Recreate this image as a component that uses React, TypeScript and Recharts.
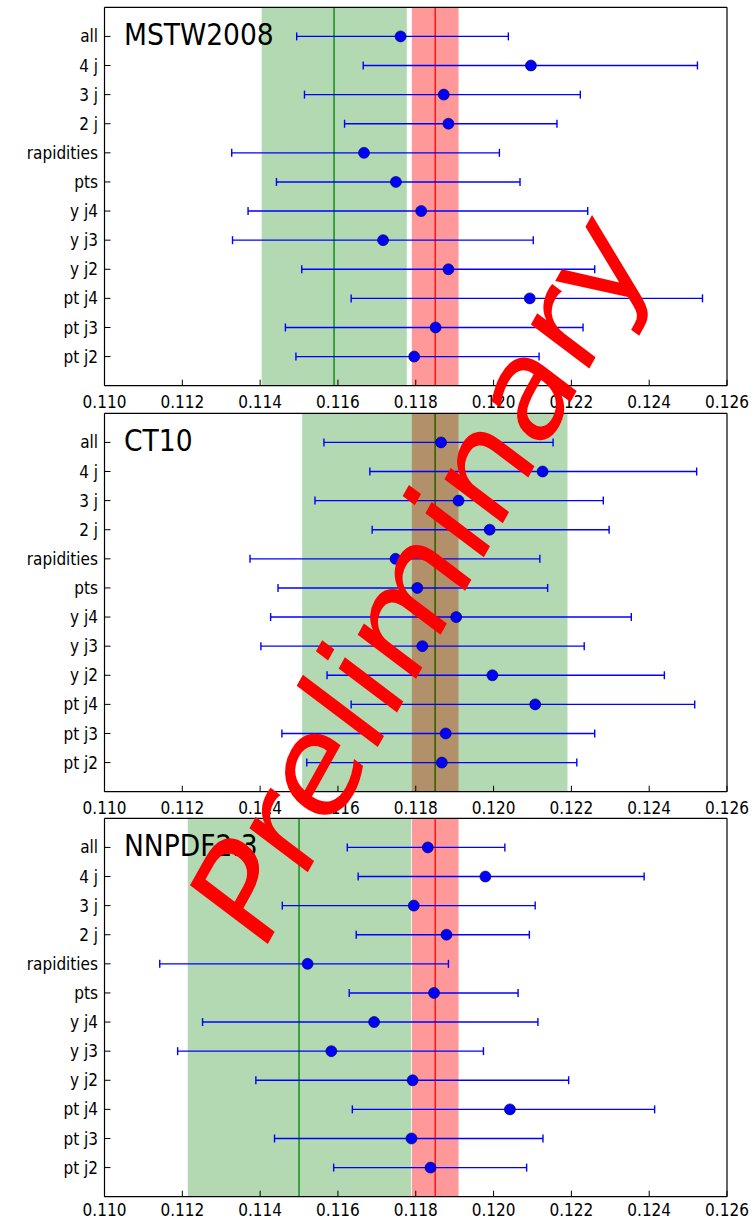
import { ScatterChart, Scatter, XAxis, YAxis, ErrorBar, ReferenceArea, ReferenceLine } from 'recharts'

// fit labels, top to bottom
const fits = ['all', '4 j', '3 j', '2 j', 'rapidities', 'pts', 'y j4', 'y j3', 'y j2', 'pt j4', 'pt j3', 'pt j2']
const rows = [0, 1, 2, 3, 4, 5, 6, 7, 8, 9, 10, 11]
const xTicks = [0.11, 0.112, 0.114, 0.116, 0.118, 0.12, 0.122, 0.124, 0.126]

// world average band (red)
const worldAvg = 0.1185
const worldLo = 0.1179
const worldHi = 0.1191

// MSTW2008
const mstwVal = [0.11761, 0.12096, 0.11872, 0.11884, 0.11667, 0.11749, 0.11814, 0.11716, 0.11884, 0.12093, 0.11851, 0.11796]
const mstwLo = [0.11494, 0.11665, 0.11514, 0.11617, 0.11327, 0.11442, 0.11369, 0.11329, 0.11507, 0.11634, 0.11465, 0.11492]
const mstwHi = [0.12038, 0.12524, 0.12223, 0.12163, 0.12015, 0.12068, 0.12242, 0.12102, 0.1226, 0.12537, 0.1223, 0.12117]
const mstwPdf = [0.1159, 0.11404, 0.11777]

// CT10
const ct10Val = [0.11865, 0.12126, 0.1191, 0.1199, 0.11748, 0.11804, 0.11904, 0.11817, 0.11997, 0.12107, 0.11877, 0.11867]
const ct10Lo = [0.11564, 0.11682, 0.11541, 0.11688, 0.11374, 0.11446, 0.11427, 0.11402, 0.11572, 0.11634, 0.11456, 0.1152]
const ct10Hi = [0.12153, 0.12522, 0.12282, 0.12297, 0.12119, 0.12139, 0.12354, 0.12233, 0.12439, 0.12517, 0.1226, 0.12214]
const ct10Pdf = [0.1185, 0.11508, 0.1219]

// NNPDF2.3
const nnpdfVal = [0.11831, 0.11979, 0.11795, 0.11879, 0.11522, 0.11847, 0.11693, 0.11583, 0.11792, 0.12042, 0.11789, 0.11838]
const nnpdfLo = [0.11624, 0.11652, 0.11457, 0.11647, 0.11142, 0.11629, 0.11252, 0.11188, 0.11389, 0.11637, 0.11437, 0.11589]
const nnpdfHi = [0.12029, 0.12387, 0.12107, 0.12092, 0.11884, 0.12063, 0.12114, 0.11974, 0.12193, 0.12414, 0.12127, 0.12085]
const nnpdfPdf = [0.115, 0.11214, 0.11788]

const font = '"DejaVu Sans Condensed", "DejaVu Sans", sans-serif'
const tickStyle = { fontFamily: font, fontSize: 17, fill: '#000' }
const axisLine = { stroke: '#000', strokeWidth: 1.2 }
const tickLine = { stroke: '#000', strokeWidth: 1 }

interface PanelProps {
  vals: number[]
  lo: number[]
  hi: number[]
  pdf: number[]
  labelGap?: number
}

const Dot = (p: any) => (
  <circle cx={p.cx} cy={p.cy} r={5.5} fill="#0000ff" stroke="#000033" strokeWidth={0.6} />
)

const Panel = ({ vals, lo, hi, pdf, labelGap = 16 }: PanelProps) => {
  const data = rows.map((r) => ({ row: r, v: vals[r], err: [vals[r] - lo[r], hi[r] - vals[r]] }))
  return (
    <ScatterChart width={754} height={420} margin={{ top: 6.3, right: 26, bottom: 14.3, left: 4.5 }}>
      <XAxis type="number" dataKey="v" xAxisId="b" domain={[0.11, 0.126]} ticks={xTicks} allowDataOverflow
        height={20} interval={0} tickSize={-6} tickMargin={labelGap} tick={tickStyle} axisLine={axisLine} tickLine={tickLine}
        tickFormatter={(t: number) => t.toFixed(3)} />
      <XAxis type="number" xAxisId="t" orientation="top" domain={[0.11, 0.126]} ticks={xTicks} allowDataOverflow
        height={1} interval={0} tickSize={-6} tick={false} axisLine={axisLine} tickLine={tickLine} />
      <YAxis type="number" dataKey="row" yAxisId="l" domain={[-1, 12]} ticks={rows} reversed allowDataOverflow
        width={100} interval={0} tickSize={-6} tickMargin={12.5} tick={tickStyle} axisLine={axisLine} tickLine={tickLine}
        tickFormatter={(t: number) => fits[t] ?? ''} />
      <YAxis type="number" yAxisId="r" orientation="right" domain={[-1, 12]} ticks={rows} reversed allowDataOverflow
        width={1} interval={0} tickSize={-6} tick={false} axisLine={axisLine} tickLine={tickLine} />
      <ReferenceArea xAxisId="b" yAxisId="l" x1={worldLo} x2={worldHi} fill="#ff0000" fillOpacity={0.4} stroke="none" />
      <ReferenceArea xAxisId="b" yAxisId="l" x1={pdf[1]} x2={pdf[2]} fill="#008000" fillOpacity={0.3} stroke="none" />
      <ReferenceLine xAxisId="b" yAxisId="l" x={worldAvg} stroke="#ff0000" strokeWidth={1.3} />
      <ReferenceLine xAxisId="b" yAxisId="l" x={pdf[0]} stroke="#008000" strokeWidth={1.3} />
      <Scatter data={data} xAxisId="b" yAxisId="l" shape={Dot} isAnimationActive={false}>
        <ErrorBar dataKey="err" direction="x" width={4} stroke="#0000ff" strokeWidth={1.4} isAnimationActive={false} />
      </Scatter>
    </ScatterChart>
  )
}

const titles = ['MSTW2008', 'CT10', 'NNPDF2.3']
const panelTops = [0, 406, 811]

export default function App() {
  return (
    <div style={{ position: 'absolute', left: 0, top: 0, width: 754, height: 1221, background: '#fff', overflow: 'hidden' }}>
      <div style={{ position: 'absolute', left: 0, top: panelTops[0] }}>
        <Panel vals={mstwVal} lo={mstwLo} hi={mstwHi} pdf={mstwPdf} />
      </div>
      <div style={{ position: 'absolute', left: 0, top: panelTops[1] }}>
        <Panel vals={ct10Val} lo={ct10Lo} hi={ct10Hi} pdf={ct10Pdf} />
      </div>
      <div style={{ position: 'absolute', left: 0, top: panelTops[2] }}>
        <Panel vals={nnpdfVal} lo={nnpdfLo} hi={nnpdfHi} pdf={nnpdfPdf} labelGap={13.5} />
      </div>
      <svg width={754} height={1221} style={{ position: 'absolute', left: 0, top: 0, pointerEvents: 'none' }}>
        {titles.map((t, i) => (
          <text key={t} x={124} y={panelTops[i] + 45} fontFamily={font} fontSize={29.5} fill="#000">{t}</text>
        ))}
        <text x={0} y={0} transform="translate(420 578) scale(0.86 1) rotate(-57)" textAnchor="middle" dominantBaseline="central"
          fontFamily='"DejaVu Sans", sans-serif' fontSize={148} fill="#ff0000">Preliminary</text>
      </svg>
    </div>
  )
}
